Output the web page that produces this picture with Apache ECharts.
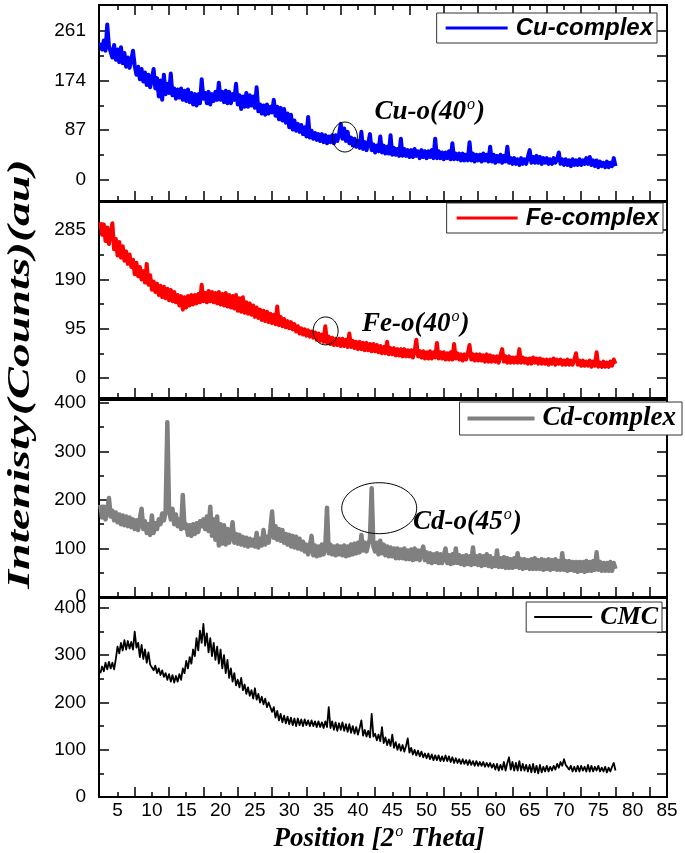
<!DOCTYPE html>
<html><head><meta charset="utf-8">
<script src="https://cdn.jsdelivr.net/npm/echarts@6/dist/echarts.min.js"></script>
<style>html,body{margin:0;padding:0;background:#fff}#c{width:685px;height:853px}</style>
</head><body><div id="c"></div>
<script>
// ---- data: 2θ grid (start + step), intensities ----
const thetaStart = 2.5;
const thetaStep = 0.25;

const cuComplex = [
240,228,244,226,272,234,232,214,236,210,228,206,232,204,222,198,214,196,210,226,
200,184,198,176,194,172,188,166,184,162,176,194,160,178,146,174,140,184,150,168,
152,186,148,160,142,158,144,160,140,156,138,158,136,152,132,150,130,150,134,176,
142,152,134,154,132,150,138,154,140,170,140,154,136,156,134,154,134,150,140,168,
132,148,124,146,128,152,128,148,130,146,126,162,120,132,116,130,114,132,116,128,
118,140,112,128,106,126,104,124,100,116,92,114,88,104,86,98,84,96,80,92,
76,110,74,86,72,82,70,80,68,80,66,78,64,76,66,78,64,78,68,80,
98,72,90,68,84,64,74,60,72,58,68,56,84,54,66,52,64,80,52,62,
48,60,50,76,48,60,46,58,46,78,44,56,44,54,42,72,42,54,42,52,
40,52,40,54,42,50,38,52,40,50,38,50,40,52,38,72,38,50,38,48,
36,48,38,50,36,64,36,46,36,46,34,46,34,44,34,66,34,46,32,44,
34,44,32,46,34,44,32,58,32,44,30,42,32,44,30,42,32,58,30,38,
28,38,28,36,26,38,28,36,28,40,52,30,40,30,42,30,40,28,38,30,
38,28,36,28,38,30,36,48,28,36,26,36,26,34,24,36,26,34,26,36,
26,34,28,38,28,40,26,34,24,34,22,32,24,30,22,32,22,30,24,38,
24];

const feComplex = [
300,276,296,264,290,258,280,298,248,268,236,262,232,254,226,244,220,238,214,228,
200,222,196,214,190,206,184,220,180,198,170,186,166,182,160,178,156,176,154,172,
150,170,148,166,146,160,140,158,132,156,136,158,140,160,142,160,144,162,146,180,
148,164,146,168,148,166,146,164,144,166,142,162,140,164,138,160,136,158,134,160,
130,154,128,156,126,146,124,144,122,140,118,136,116,132,112,130,110,128,108,124,
106,122,104,138,102,118,100,114,98,110,96,108,94,104,90,100,86,96,84,94,
82,92,80,90,78,88,74,86,72,84,70,100,68,80,66,78,64,76,64,76,
62,76,62,74,60,86,60,72,58,70,56,70,56,68,54,68,54,66,52,66,
52,64,50,62,48,60,48,70,46,58,46,58,44,56,44,56,42,56,42,54,
42,54,40,52,74,42,52,40,52,38,50,38,52,38,50,40,68,38,50,38,
50,36,48,36,50,36,66,38,48,36,46,34,46,36,48,64,36,46,34,46,
34,46,34,44,32,46,32,44,32,42,32,42,30,44,56,32,42,30,42,30,
40,30,40,30,56,30,40,30,38,28,38,28,40,30,38,28,38,28,36,28,
36,26,36,28,38,26,36,28,36,26,34,26,36,26,34,26,36,48,26,34,
24,34,24,32,24,34,22,32,24,50,22,30,22,32,22,30,22,32,24,36,
28];

const cdComplex = [
190,164,186,160,178,204,166,178,158,174,154,170,150,168,148,166,146,164,144,160,
140,158,138,162,182,140,156,132,150,128,168,132,152,140,160,150,172,158,176,360,
178,160,182,150,170,146,160,140,210,142,150,128,148,126,150,130,152,134,156,146,
160,140,166,136,186,126,160,118,166,106,150,110,148,108,140,112,130,154,112,130,
110,128,108,124,106,122,104,120,106,118,104,132,102,120,106,138,108,124,112,140,
176,122,146,118,140,116,138,112,130,108,128,104,126,102,124,100,120,98,114,94,
108,88,104,126,86,106,84,104,86,108,88,104,184,90,108,88,104,86,106,88,
104,86,106,84,104,86,108,88,110,90,112,92,128,96,112,94,108,120,224,104,
94,112,88,116,90,108,86,104,84,102,84,100,80,100,80,98,80,100,78,96,
78,98,76,100,78,96,76,92,104,76,92,72,90,70,88,72,90,70,88,70,
86,100,70,86,68,88,70,100,70,86,68,84,66,86,68,84,66,102,68,84,
66,86,64,84,66,88,64,84,62,80,64,96,62,80,62,82,60,80,60,78,
60,80,62,90,60,78,58,78,60,76,58,78,58,80,58,76,58,78,56,76,
58,78,56,76,58,78,56,74,56,90,56,74,54,74,56,72,54,72,52,72,
54,72,52,74,54,72,54,74,56,92,56,72,54,70,54,70,54,72,54,70,
58];

const cmc = [
262,276,266,284,270,286,272,284,270,292,318,304,326,310,332,312,330,314,328,312,
350,316,326,296,322,292,312,284,306,280,282,268,278,262,272,258,268,254,262,248,
260,244,258,242,256,244,260,248,272,262,288,272,296,282,312,298,336,310,352,326,
366,320,346,306,336,298,326,290,318,282,312,272,300,262,290,252,272,244,262,236,
248,232,252,226,238,218,232,214,226,208,230,206,218,200,212,196,208,190,200,204,
180,190,168,182,162,176,158,172,156,170,154,168,152,166,150,166,152,164,150,164,
152,162,150,162,150,160,148,160,148,158,146,160,148,190,146,160,142,158,140,156,
142,158,140,154,138,154,136,150,134,148,132,146,162,130,142,128,140,126,176,128,
134,120,132,118,148,114,126,110,122,108,132,104,116,100,112,98,110,96,108,124,
94,104,90,100,88,98,86,96,84,92,82,92,80,90,78,88,78,88,76,86,
76,88,76,86,74,84,72,82,72,80,70,80,70,78,68,78,68,76,66,76,
66,74,66,74,64,72,64,72,62,70,58,70,56,68,58,74,56,72,84,58,
74,56,72,56,76,56,70,56,68,54,68,52,70,52,66,50,68,52,64,54,
66,54,64,56,66,58,70,62,74,66,80,68,72,58,66,54,64,54,66,54,
66,56,64,54,68,54,66,54,64,56,66,54,62,54,64,52,62,54,64,72,
56];

const seriesNames = ['Cu-complex', 'Fe-complex', 'Cd-complex', 'CMC'];
const seriesValues = [cuComplex, feComplex, cdComplex, cmc];

// ---- axes: tick values and labels ----
const xRange = [2.3, 85];
const xLabelValues = [5,10,15,20,25,30,35,40,45,50,55,60,65,70,75,80,85];
const xLongTickValues = [7.5,12.5,17.5,22.5,27.5,32.5,37.5,42.5,47.5,52.5,57.5,62.5,67.5,72.5,77.5,82.5];
const yRanges = [[-37, 306], [-38, 339], [0, 406], [0, 421]];
const yMajorValues = [[0,87,174,261], [0,95,190,285], [0,100,200,300,400], [0,100,200,300,400]];
const yMinorValues = [[43.5,130.5,217.5], [47.5,142.5,237.5], [50,150,250,350], [50,150,250,350]];

// ---- annotations (data coordinates) ----
const annotationText = ['Cu-o(40', 'Fe-o(40', 'Cd-o(45'];
const annotationTextAt = [[42.4, 119], [40.6, 104], [48.0, 155]];
const annotationRingAt = [[38.1, 75], [35.3, 91], [43.1, 183]];

// ---- layout / styles ----
const gridTops = [5, 202, 400, 598];
const gridHeights = [196, 196, 197, 199];
const colors = ['#0000ff', '#ff0000', '#808080', '#000000'];
const lineWidths = [4, 4, 4.5, 1.8];
const legendLineHeights = [3, 3, 4, 2];
const ringSizes = [[12.5, 15], [12.5, 14], [37.5, 25.5]];
const legendPos = [
  {right: 28, top: 13, itemWidth: 62, font: 'Liberation Sans', size: 24, pad: [3, 4, 3, 9]},
  {right: 22, top: 203, itemWidth: 61, font: 'Liberation Sans', size: 24, pad: [3, 4, 3, 10]},
  {right: 3, top: 402, itemWidth: 67, font: 'Liberation Serif', size: 27, pad: [3, 6, 3, 8]},
  {right: 23, top: 602, itemWidth: 58, font: 'Liberation Serif', size: 26, pad: [2, 4, 2, 8]}
];

const BLACK = '#000';
const numFont = {fontFamily: 'Liberation Sans', fontSize: 19, color: BLACK};

const grids = [], xAxes = [], yAxes = [], series = [], legends = [];
for (let g = 0; g < 4; g++) {
  grids.push({left: 99, right: 18, top: gridTops[g], height: gridHeights[g], outerBoundsMode: 'none', containLabel: false});
  const xBase = {type: 'value', gridIndex: g, min: xRange[0], max: xRange[1], splitLine: {show: false}};
  xAxes.push(Object.assign({}, xBase, {position: 'bottom',
    axisLine: {show: true, onZero: false, lineStyle: {color: BLACK, width: 2}},
    axisTick: {show: true, inside: true, length: 10, customValues: xLongTickValues, lineStyle: {color: BLACK, width: 1.5}},
    axisLabel: {show: false}}));
  const xb = Object.assign({}, xBase, {position: 'bottom',
    axisLine: {show: false, onZero: false},
    axisTick: {show: true, inside: true, length: 5, customValues: xLabelValues, lineStyle: {color: BLACK, width: 1.5}},
    axisLabel: {show: g === 3, customValues: xLabelValues, margin: 4, ...numFont}});
  if (g === 3) {
    xb.name = '{t|Position [2}{s|o}{t| Theta]}';
    xb.nameLocation = 'middle';
    xb.nameGap = 27;
    xb.nameTextStyle = {padding: [0, 8, 0, 0], rich: {
      t: {fontFamily: 'Liberation Serif', fontWeight: 'bold', fontStyle: 'italic', fontSize: 27, color: BLACK},
      s: {fontFamily: 'Liberation Serif', fontStyle: 'italic', fontSize: 16, color: BLACK, padding: [0, 1, 14, 1]}
    }};
  }
  xAxes.push(xb);
  xAxes.push(Object.assign({}, xBase, {position: 'top',
    axisLine: {show: true, onZero: false, lineStyle: {color: BLACK, width: 2}},
    axisTick: {show: g === 0, inside: true, length: 10, customValues: xLongTickValues, lineStyle: {color: BLACK, width: 1.5}},
    axisLabel: {show: false}}));
  xAxes.push(Object.assign({}, xBase, {position: 'top',
    axisLine: {show: false, onZero: false},
    axisTick: {show: g === 0, inside: true, length: 5, customValues: xLabelValues, lineStyle: {color: BLACK, width: 1.5}},
    axisLabel: {show: false}}));

  const yBase = {type: 'value', gridIndex: g, min: yRanges[g][0], max: yRanges[g][1], splitLine: {show: false}};
  yAxes.push(Object.assign({}, yBase, {position: 'left',
    axisLine: {show: true, onZero: false, lineStyle: {color: BLACK, width: 2}},
    axisTick: {show: true, inside: true, length: 10, customValues: yMajorValues[g], lineStyle: {color: BLACK, width: 1.5}},
    axisLabel: {show: true, customValues: yMajorValues[g], margin: 13, ...numFont}}));
  yAxes.push(Object.assign({}, yBase, {position: 'left',
    axisLine: {show: false, onZero: false},
    axisTick: {show: true, inside: true, length: 5, customValues: yMinorValues[g], lineStyle: {color: BLACK, width: 1.5}},
    axisLabel: {show: false}}));
  yAxes.push(Object.assign({}, yBase, {position: 'right',
    axisLine: {show: true, onZero: false, lineStyle: {color: BLACK, width: 2}},
    axisTick: {show: true, inside: true, length: 10, customValues: yMajorValues[g].concat(yMinorValues[g]), lineStyle: {color: BLACK, width: 1.5}},
    axisLabel: {show: false}}));

  series.push({
    name: seriesNames[g], type: 'line', xAxisIndex: 4 * g, yAxisIndex: 3 * g,
    data: seriesValues[g].map((v, i) => [thetaStart + i * thetaStep, v]),
    showSymbol: false, symbol: 'none', animation: false, silent: true,
    lineStyle: {color: colors[g], width: lineWidths[g], join: 'round'}, itemStyle: {color: colors[g]},
    emphasis: {disabled: true}, z: 2
  });

  const lp = legendPos[g];
  legends.push({
    data: [{name: seriesNames[g], icon: 'rect'}], right: lp.right, top: lp.top, orient: 'horizontal',
    backgroundColor: '#fff', borderColor: '#333', borderWidth: 1, borderRadius: 0,
    padding: lp.pad, itemWidth: lp.itemWidth, itemHeight: legendLineHeights[g], itemGap: 0, selectedMode: false,
    itemStyle: {color: colors[g], borderWidth: 0},
    textStyle: {fontFamily: lp.font, fontWeight: 'bold', fontStyle: 'italic', fontSize: lp.size, color: BLACK, padding: [0, 0, 0, 3]}
  });
}

const chart = echarts.init(document.getElementById('c'), null, {renderer: 'canvas'});
chart.setOption({
  backgroundColor: '#fff',
  animation: false,
  grid: grids, xAxis: xAxes, yAxis: yAxes, series: series, legend: legends
});

const graphics = [{
  type: 'text', x: 21, y: 374, rotation: Math.PI / 2, scaleX: 1.5, z: 10,
  style: {text: 'Intenisty(Counts)(au)', font: 'italic bold 32px "Liberation Serif"', fill: BLACK, align: 'center', verticalAlign: 'middle'}
}];
for (let k = 0; k < annotationText.length; k++) {
  const c = chart.convertToPixel({seriesIndex: k}, annotationRingAt[k]);
  const t = chart.convertToPixel({seriesIndex: k}, annotationTextAt[k]);
  graphics.push({type: 'ellipse', z: 10, shape: {cx: c[0], cy: c[1], rx: ringSizes[k][0], ry: ringSizes[k][1]},
    style: {fill: 'none', stroke: BLACK, lineWidth: 1}});
  graphics.push({type: 'text', x: t[0], y: t[1], z: 10,
    style: {text: '{m|' + annotationText[k] + '}{s|o}{m|)}', align: 'left', verticalAlign: 'middle',
      rich: {
        m: {font: 'italic bold 27px "Liberation Serif"', fill: BLACK},
        s: {font: 'italic 16px "Liberation Serif"', fill: BLACK, padding: [0, 1, 14, 1]}
      }}});
}
chart.setOption({graphic: graphics});
</script>
</body></html>
